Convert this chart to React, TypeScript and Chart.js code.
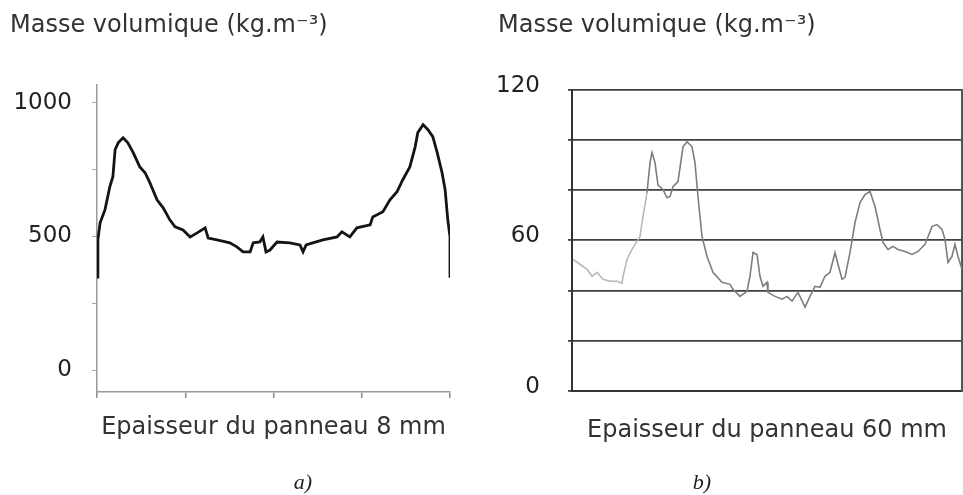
import React, { useEffect, useRef } from "react";
import { Chart, registerables } from "chart.js";

Chart.register(...registerables);

// ---- texts ----
const TITLE = "Masse volumique (kg.m⁻³)";
const X_TITLE_A = "Epaisseur du panneau 8 mm";
const X_TITLE_B = "Epaisseur du panneau 60 mm";
const CAPTION_A = "a)";
const CAPTION_B = "b)";

// ---- panel a : 8 mm panel ----
const thicknessA = [
  0, 0.02, 0.07, 0.18, 0.29, 0.36, 0.41, 0.48, 0.59, 0.7, 0.82, 0.97, 1.09, 1.2, 1.36,
  1.5, 1.65, 1.77, 1.95, 2.11, 2.27, 2.45, 2.52, 2.72, 3.01, 3.17, 3.31, 3.47, 3.54, 3.69,
  3.76, 3.83, 3.92, 4.08, 4.37, 4.6, 4.67, 4.74, 4.89, 5.12, 5.44, 5.55, 5.73, 5.89, 6.19,
  6.25, 6.48, 6.64, 6.8, 6.93, 7.09, 7.21, 7.27, 7.39, 7.5, 7.61, 7.71, 7.82, 7.89, 7.95,
  8.0, 8.0,
];
const densityA = [
  348, 487, 551, 599, 685, 723, 824, 850, 869, 850, 813, 760, 738, 700, 637,
  607, 562, 536, 524, 498, 513, 532, 494, 487, 476, 461, 442, 442, 476, 479,
  498, 442, 449, 479, 476, 468, 442, 468, 476, 487, 498, 517, 498, 532, 543,
  573, 592, 637, 667, 712, 760, 835, 888, 918, 899, 873, 813, 738, 674, 562,
  498, 345,
];
const xTicksA = [0, 2, 4, 6, 8];
const yTicksA = [0, 250, 500, 750, 1000];
const yLabelsA = [0, 500, 1000];

// ---- panel b : 60 mm panel ----
const thicknessB = [
  0.15, 1.23, 2.31, 3.08, 3.85, 4.77, 5.85, 6.92, 7.69, 7.85, 8.46, 9.23, 10.0, 10.46,
  10.92, 11.54, 12.0, 12.31, 12.77, 13.23, 14.0, 14.62, 15.08, 15.54, 16.31, 17.08, 17.69,
  18.46, 18.92, 19.38, 20.0, 20.77, 21.69, 23.08, 24.31, 24.77, 25.85, 26.92, 27.38, 27.85,
  28.46, 28.92, 29.38, 30.0, 30.15, 31.23, 32.31, 33.08, 33.85, 34.77, 35.85, 36.62, 37.38,
  38.15, 38.92, 39.69, 40.46, 40.92, 41.54, 42.0, 42.77, 43.54, 44.31, 45.08, 45.85, 46.62,
  47.38, 47.85, 48.62, 49.38, 50.15, 51.23, 52.31, 53.23, 54.31, 55.38, 56.15, 56.92, 57.38,
  57.85, 58.46, 58.92, 59.38, 60.0,
];
const densityB = [
  52.4, 50.5, 48.5, 45.7, 47.3, 44.5, 43.7, 43.7, 42.9, 45.7, 52.4, 56.4, 59.6, 61.6,
  69.5, 79, 91, 95, 91, 82, 80.3, 77, 77.5, 81.4, 83.4, 97.3, 99.3,
  97.3, 91, 77.5, 61.6, 53.6, 47.3, 43.3, 42.5, 40.5, 37.7, 39.7, 45.7, 55.2,
  54.4, 45.7, 41.7, 43.3, 39.3, 37.7, 36.6, 37.7, 35.8, 39.3, 33.4, 37.7, 41.7,
  41.3, 45.7, 47.3, 55.2, 50.5, 44.5, 45.3, 55.2, 67.1, 75.1, 78.3, 79.5, 73.5,
  64.4, 59.2, 56.4, 57.6, 56.4, 55.6, 54.4, 55.6, 58.4, 65.5, 66.3, 64.4, 60.4,
  51.2, 53.6, 58.4, 53.6, 48.5,
];
const yTicksB = [0, 20, 40, 60, 80, 100, 120];
const yLabelsB = [0, 60, 120];

const FONT = "'DejaVu Sans', Verdana, sans-serif";

function makeChartA(canvas: HTMLCanvasElement) {
  return new Chart(canvas, {
    type: "line",
    data: {
      datasets: [
        {
          data: thicknessA.map((x, i) => ({ x, y: densityA[i] })),
          borderColor: "#141414",
          borderWidth: 2.8,
          pointRadius: 0,
          tension: 0,
          fill: false,
        },
      ],
    },
    options: {
      responsive: false,
      animation: false,
      devicePixelRatio: 1,
      layout: { padding: { left: 10, right: 30, top: 0, bottom: 0 } },
      plugins: {
        legend: { display: false },
        tooltip: { enabled: false },
        title: {
          display: true,
          text: TITLE,
          align: "start",
          color: "#333",
          font: { family: FONT, size: 24, weight: "normal" },
          padding: { top: 11, bottom: 45 },
        },
      },
      scales: {
        x: {
          type: "linear",
          min: 0,
          max: 8,
          afterBuildTicks: (s: any) => {
            s.ticks = xTicksA.map((v) => ({ value: v }));
          },
          afterFit: (s: any) => {
            s.height = 103;
          },
          grid: { drawOnChartArea: false, drawTicks: true, tickLength: 6, color: "#8a8a8a", lineWidth: 1.5 },
          border: { display: true, color: "#9a9a9a", width: 1.5 },
          ticks: { callback: () => "" },
          title: {
            display: true,
            text: X_TITLE_A,
            color: "#333",
            font: { family: FONT, size: 24 },
            padding: { top: 0, bottom: 53 },
          },
        },
        y: {
          type: "linear",
          min: -82,
          max: 1067,
          afterBuildTicks: (s: any) => {
            s.ticks = yTicksA.map((v) => ({ value: v }));
          },
          afterFit: (s: any) => {
            s.width = 87;
          },
          grid: { drawOnChartArea: false, tickLength: 5, color: "#aaa", lineWidth: 1 },
          border: { display: true, color: "#9a9a9a", width: 1.5 },
          ticks: {
            padding: 20,
            color: "#222",
            font: { family: FONT, size: 23 },
            callback: (v: any) => (yLabelsA.includes(Number(v)) ? String(v) : ""),
          },
        },
      },
    },
  } as any);
}

function makeChartB(canvas: HTMLCanvasElement) {
  return new Chart(canvas, {
    type: "line",
    data: {
      datasets: [
        {
          data: thicknessB.map((x, i) => ({ x, y: densityB[i] })),
          borderColor: "#7d7d7d",
          borderWidth: 1.6,
          pointRadius: 0,
          tension: 0,
          fill: false,
          segment: {
            borderColor: (ctx: any) => (ctx.p0.parsed.x < 11 ? "#b8b8b8" : "#7d7d7d"),
          },
        },
      ],
    },
    options: {
      responsive: false,
      animation: false,
      devicePixelRatio: 1,
      layout: { padding: { left: 18, right: 1, top: 0, bottom: 0 } },
      plugins: {
        legend: { display: false },
        tooltip: { enabled: false },
        title: {
          display: true,
          text: TITLE,
          align: "start",
          color: "#333",
          font: { family: FONT, size: 24, weight: "normal" },
          padding: { top: 11, bottom: 50 },
        },
      },
      scales: {
        x: {
          type: "linear",
          min: 0,
          max: 60,
          grid: { display: false },
          ticks: { display: false },
          border: { display: true, color: "#333", width: 2 },
          afterFit: (s: any) => {
            s.height = 104;
          },
          title: {
            display: true,
            text: X_TITLE_B,
            color: "#333",
            font: { family: FONT, size: 24 },
            padding: { top: 0, bottom: 50 },
          },
        },
        y: {
          type: "linear",
          min: 0,
          max: 120,
          afterBuildTicks: (s: any) => {
            s.ticks = yTicksB.map((v) => ({ value: v }));
          },
          afterFit: (s: any) => {
            s.width = 74;
          },
          grid: { color: "#404040", lineWidth: 1.8, tickLength: 4 },
          border: { display: true, color: "#333", width: 2 },
          ticks: {
            padding: 28,
            labelOffset: -4,
            color: "#222",
            font: { family: FONT, size: 23 },
            callback: (v: any) => (yLabelsB.includes(Number(v)) ? String(v) : ""),
          },
        },
        y2: {
          type: "linear",
          position: "right",
          min: 0,
          max: 120,
          grid: { display: false },
          ticks: { display: false },
          border: { display: true, color: "#555", width: 2 },
          afterFit: (s: any) => {
            s.width = 0;
          },
        },
      },
    },
  } as any);
}

const captionStyle: React.CSSProperties = {
  position: "absolute",
  top: 471,
  width: 40,
  textAlign: "center",
  fontFamily: "'Liberation Serif', 'Times New Roman', serif",
  fontStyle: "italic",
  fontSize: 22,
  lineHeight: "22px",
  color: "#222",
};

export default function App() {
  const refA = useRef<HTMLCanvasElement>(null);
  const refB = useRef<HTMLCanvasElement>(null);

  useEffect(() => {
    const a = refA.current ? makeChartA(refA.current) : null;
    const b = refB.current ? makeChartB(refB.current) : null;
    return () => {
      a?.destroy();
      b?.destroy();
    };
  }, []);

  return (
    <div
      style={{
        position: "fixed",
        left: 0,
        top: 0,
        width: 963,
        height: 495,
        background: "#fff",
        overflow: "hidden",
      }}
    >
      <canvas
        ref={refA}
        width={480}
        height={495}
        style={{ position: "absolute", left: 0, top: 0, width: 480, height: 495 }}
      />
      <canvas
        ref={refB}
        width={483}
        height={495}
        style={{ position: "absolute", left: 480, top: 0, width: 483, height: 495 }}
      />
      <div style={{ ...captionStyle, left: 283 }}>{CAPTION_A}</div>
      <div style={{ ...captionStyle, left: 682 }}>{CAPTION_B}</div>
    </div>
  );
}
